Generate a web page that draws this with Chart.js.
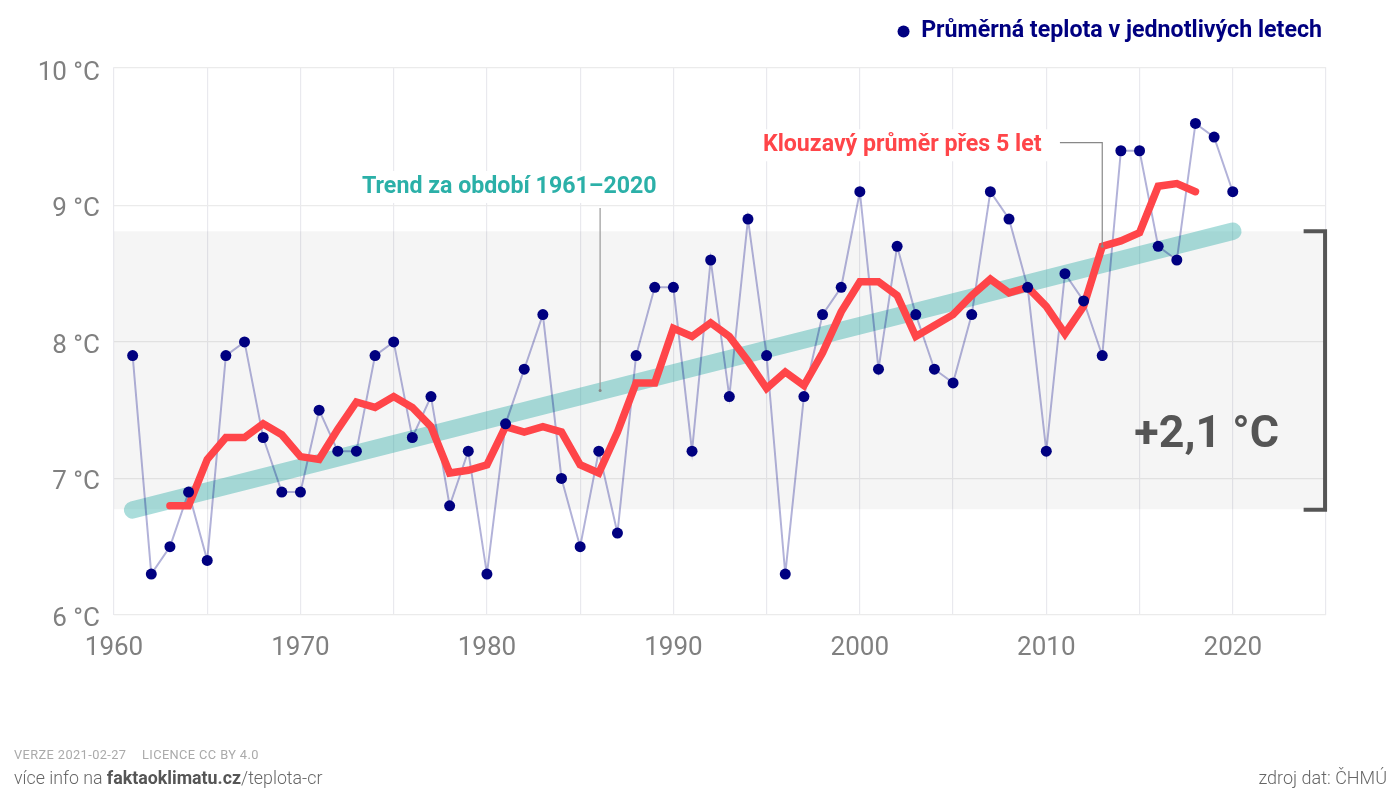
<!DOCTYPE html>
<html lang="cs">
<head>
<meta charset="utf-8">
<title>Průměrná teplota v ČR</title>
<script src="https://cdn.jsdelivr.net/npm/chart.js@4"></script>
<style>
  html, body { margin: 0; padding: 0; background: #fff; }
  #wrap { position: relative; width: 1387px; height: 795px; overflow: hidden; font-family: Roboto, sans-serif; }
  #chart { position: absolute; left: 0; top: 0; }
  .foot { position: absolute; white-space: nowrap; }
  #version { left: 14px; top: 747px; font-size: 12.8px; color: #aaa; letter-spacing: 0.4px; }
  #version span { margin-left: 12px; }
  #info { left: 14px; top: 767px; font-size: 17.8px; font-weight: 300; color: #666; }
  #info b { font-weight: 700; color: #555; }
  #source { right: 0; top: 767px; font-size: 18px; font-weight: 300; color: #666; }
</style>
</head>
<body>
<div id="wrap">
  <canvas id="chart" width="1387" height="795"></canvas>
  <div class="foot" id="version">VERZE 2021-02-27 <span>LICENCE CC BY 4.0</span></div>
  <div class="foot" id="info">více info na <b>faktaoklimatu.cz</b>/teplota-cr</div>
  <div class="foot" id="source">zdroj dat: ČHMÚ</div>
</div>
<script>
const years = [1961,1962,1963,1964,1965,1966,1967,1968,1969,1970,
  1971,1972,1973,1974,1975,1976,1977,1978,1979,1980,
  1981,1982,1983,1984,1985,1986,1987,1988,1989,1990,
  1991,1992,1993,1994,1995,1996,1997,1998,1999,2000,
  2001,2002,2003,2004,2005,2006,2007,2008,2009,2010,
  2011,2012,2013,2014,2015,2016,2017,2018,2019,2020];
const annualTemp = [7.9,6.3,6.5,6.9,6.4,7.9,8.0,7.3,6.9,6.9,
  7.5,7.2,7.2,7.9,8.0,7.3,7.6,6.8,7.2,6.3,
  7.4,7.8,8.2,7.0,6.5,7.2,6.6,7.9,8.4,8.4,
  7.2,8.6,7.6,8.9,7.9,6.3,7.6,8.2,8.4,9.1,
  7.8,8.7,8.2,7.8,7.7,8.2,9.1,8.9,8.4,7.2,
  8.5,8.3,7.9,9.4,9.4,8.7,8.6,9.6,9.5,9.1];

const avgYears = [1963,1964,1965,1966,1967,1968,1969,1970,
  1971,1972,1973,1974,1975,1976,1977,1978,1979,1980,
  1981,1982,1983,1984,1985,1986,1987,1988,1989,1990,
  1991,1992,1993,1994,1995,1996,1997,1998,1999,2000,
  2001,2002,2003,2004,2005,2006,2007,2008,2009,2010,
  2011,2012,2013,2014,2015,2016,2017,2018];
const movingAvg = [6.8,6.8,7.14,7.3,7.3,7.4,7.32,7.16,
  7.14,7.36,7.56,7.52,7.6,7.52,7.38,7.04,7.06,7.1,
  7.38,7.34,7.38,7.34,7.1,7.04,7.34,7.7,7.7,8.1,
  8.04,8.14,8.04,7.86,7.66,7.78,7.68,7.92,8.22,8.44,
  8.44,8.34,8.04,8.12,8.2,8.34,8.46,8.36,8.4,8.26,
  8.06,8.26,8.7,8.74,8.8,9.14,9.16,9.1];

const trendYears = [1961, 2020];
const trendTemp = [6.77, 8.81];

const bandYears = [1960, 2025];
const bandTop = [8.81, 8.81];
const bandBottom = 6.775;

const bracketYears = [2023.8, 2024.95, 2024.95, 2023.8];
const bracketTemp = [8.81, 8.81, 6.77, 6.77];

const trendLeaderYears = [1986.07, 1986.07];
const trendLeaderTemp = [8.98, 7.645];
const avgLeaderYears = [2010.73, 2013, 2013];
const avgLeaderTemp = [9.46, 9.46, 8.7];

// horni ramecek grafu lezi kousek nad 10 °C
const yMax = 10.012;
const yTicks = [6, 7, 8, 9, 10, yMax];

const legendLabel = 'Průměrná teplota v jednotlivých letech';
const trendLabel = 'Trend za období 1961–2020';
const avgLabel = 'Klouzavý průměr přes 5 let';
const diffLabel = '+2,1 °C';

function zip(xs, ys) {
  return xs.map((x, i) => ({ x: x, y: ys[i] }));
}

// popisky v grafu, pozice bere ze skal
const noteFont = '700 23.2px Roboto';
function noteSpots(c) {
  const sx = c.scales.x, sy = c.scales.y;
  return [
    { text: trendLabel, color: '#2bb0a8', x: sx.getPixelForValue(1973.3), y: sy.getPixelForValue(9.135) },
    { text: avgLabel, color: '#ff4549', x: sx.getPixelForValue(1994.8), y: sy.getPixelForValue(9.44) }
  ];
}

const notes = {
  id: 'notes',
  beforeInit(c) {
    // vetsi mezera pod legendou
    const fit = c.legend.fit;
    c.legend.fit = function () {
      fit.call(this);
      this.height += 14;
    };
  },
  beforeDatasetsDraw(c) {
    const ctx = c.ctx;
    ctx.save();
    ctx.font = noteFont;
    ctx.fillStyle = '#fff';
    noteSpots(c).forEach((n) => {
      ctx.fillRect(n.x - 8, n.y - 16, ctx.measureText(n.text).width + 16, 32);
    });
    ctx.restore();
  },
  afterDatasetsDraw(c) {
    const ctx = c.ctx;
    ctx.save();
    ctx.textBaseline = 'middle';
    ctx.textAlign = 'left';
    ctx.font = noteFont;
    noteSpots(c).forEach((n) => {
      ctx.fillStyle = n.color;
      ctx.fillText(n.text, n.x, n.y);
    });

    ctx.font = '700 44.8px Roboto';
    ctx.fillStyle = '#555';
    ctx.textAlign = 'center';
    ctx.fillText(diffLabel, c.scales.x.getPixelForValue(2018.6), c.scales.y.getPixelForValue(7.31));
    ctx.restore();
  }
};

new Chart(document.getElementById('chart'), {
  type: 'line',
  data: {
    datasets: [
      {
        label: legendLabel,
        data: zip(years, annualTemp),
        showLine: false,
        backgroundColor: '#000080',
        pointBackgroundColor: '#000080',
        pointBorderWidth: 0,
        pointRadius: 5.5,
        order: 0
      },
      {
        label: 'annualLine',
        data: zip(years, annualTemp),
        borderColor: 'rgba(0,0,128,0.3)',
        borderWidth: 2,
        pointRadius: 0,
        order: 3
      },
      {
        label: 'band',
        data: zip(bandYears, bandTop),
        borderWidth: 0,
        pointRadius: 0,
        fill: { value: bandBottom },
        backgroundColor: 'rgba(0,0,0,0.04)',
        order: 6
      },
      {
        label: 'trend',
        data: zip(trendYears, trendTemp),
        borderColor: 'rgba(43,170,165,0.4)',
        borderWidth: 17.5,
        borderCapStyle: 'round',
        pointRadius: 0,
        clip: false,
        order: 5
      },
      {
        label: 'avg',
        data: zip(avgYears, movingAvg),
        borderColor: '#ff4549',
        borderWidth: 7.5,
        borderCapStyle: 'round',
        borderJoinStyle: 'miter',
        pointRadius: 0,
        order: 2
      },
      {
        label: 'bracket',
        data: zip(bracketYears, bracketTemp),
        borderColor: '#555',
        borderWidth: 4,
        borderJoinStyle: 'miter',
        pointRadius: 0,
        clip: false,
        order: 1
      },
      {
        label: 'trendLeader',
        data: zip(trendLeaderYears, trendLeaderTemp),
        borderColor: '#999',
        borderWidth: 1.2,
        pointRadius: [0, 1.5],
        pointBackgroundColor: '#888',
        pointBorderWidth: 0,
        order: 1
      },
      {
        label: 'avgLeader',
        data: zip(avgLeaderYears, avgLeaderTemp),
        borderColor: '#888',
        borderWidth: 1.2,
        pointRadius: [0, 0, 1.5],
        pointBackgroundColor: '#888',
        pointBorderWidth: 0,
        order: 1
      }
    ]
  },
  options: {
    responsive: false,
    animation: false,
    layout: { padding: { left: 0, right: 61, top: 16, bottom: 0 } },
    plugins: {
      tooltip: { enabled: false },
      legend: {
        display: true,
        position: 'top',
        align: 'end',
        labels: {
          usePointStyle: true,
          pointStyle: 'circle',
          boxHeight: 8.5,
          boxWidth: 12,
          pointStyleWidth: 12,
          color: '#000080',
          padding: 4,
          font: { family: 'Roboto', size: 23.2, weight: '700' },
          filter: (item) => item.text === legendLabel
        }
      }
    },
    scales: {
      x: {
        type: 'linear',
        min: 1960,
        max: 2025,
        grid: { color: '#e9e9ee', lineWidth: 1.2, drawTicks: false },
        border: { display: false },
        afterFit(scale) { scale.height = 180; },
        ticks: {
          stepSize: 5,
          autoSkip: false,
          maxRotation: 0,
          padding: 18,
          color: '#808080',
          font: { family: 'Roboto', size: 26, weight: '400' },
          callback: (v) => (v % 10 === 0 && v <= 2020 ? String(v) : '')
        }
      },
      y: {
        min: 6,
        max: yMax,
        grid: {
          color: (ctx) => (ctx.tick && ctx.tick.value === 10 ? 'rgba(0,0,0,0)' : '#ebebeb'),
          lineWidth: 1.2,
          drawTicks: false
        },
        border: { display: false },
        afterBuildTicks(scale) { scale.ticks = yTicks.map((v) => ({ value: v })); },
        afterFit(scale) { scale.width = 114; },
        ticks: {
          padding: 14,
          color: '#808080',
          // prazdny radek posune text o pul lineHeight dolu
          font: { family: 'Roboto', size: 26, weight: '400', lineHeight: '9px' },
          callback: (v) => (Number.isInteger(v) ? ['', v + ' °C'] : '')
        }
      }
    }
  },
  plugins: [notes]
});
</script>
</body>
</html>
